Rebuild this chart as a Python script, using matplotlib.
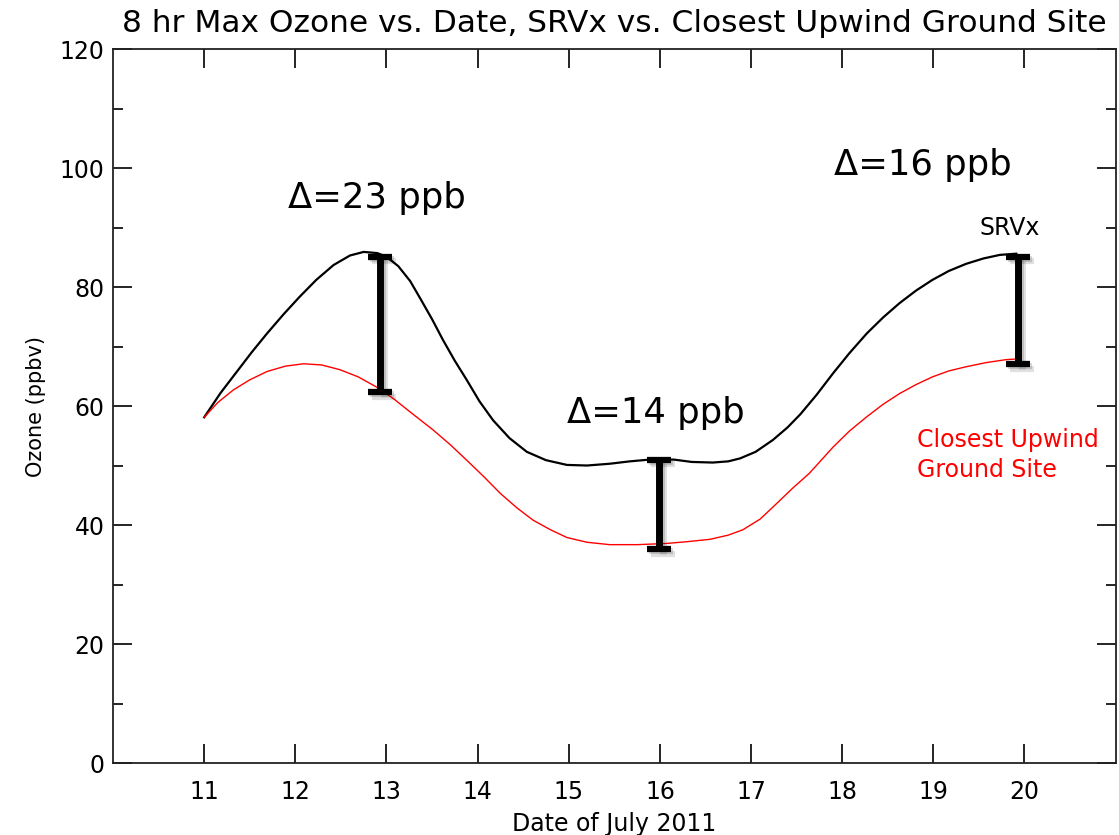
import matplotlib
matplotlib.use("Agg")
import matplotlib.pyplot as plt
import matplotlib.patheffects as pe
import numpy as np

# SRVx (black) curve
srvx_date = [11.00, 11.18, 11.36, 11.52, 11.69, 11.87, 12.05, 12.23, 12.42, 12.60,
             12.75, 12.90, 13.00, 13.13, 13.26, 13.37, 13.50, 13.62, 13.75, 13.88,
             14.02, 14.17, 14.35, 14.54, 14.75, 14.98, 15.20, 15.45, 15.67, 15.89,
             16.15, 16.35, 16.58, 16.75, 16.88, 17.05, 17.24, 17.40, 17.54, 17.72,
             17.90, 18.08, 18.27, 18.45, 18.63, 18.81, 18.99, 19.17, 19.36, 19.55,
             19.73, 19.91]
srvx_o3 = [58.1, 62.2, 65.8, 69.0, 72.2, 75.4, 78.4, 81.2, 83.7, 85.3,
           85.9, 85.7, 85.1, 83.5, 81.0, 78.1, 74.6, 71.1, 67.6, 64.4,
           60.8, 57.6, 54.6, 52.3, 50.9, 50.1, 50.0, 50.3, 50.7, 51.0,
           51.0, 50.6, 50.5, 50.7, 51.2, 52.3, 54.3, 56.4, 58.6, 61.9,
           65.5, 68.9, 72.2, 74.9, 77.3, 79.4, 81.2, 82.7, 83.9, 84.8,
           85.4, 85.6]

# closest upwind ground site (red) curve
ground_date = [11.00, 11.15, 11.32, 11.50, 11.69, 11.89, 12.09, 12.29, 12.49, 12.69,
               12.89, 13.08, 13.26, 13.51, 13.70, 13.88, 14.07, 14.25, 14.43, 14.61,
               14.80, 14.98, 15.20, 15.45, 15.75, 16.07, 16.30, 16.55, 16.75, 16.91,
               17.10, 17.28, 17.45, 17.64, 17.77, 17.90, 18.08, 18.27, 18.45, 18.63,
               18.81, 18.99, 19.17, 19.36, 19.58, 19.80, 19.91]
ground_o3 = [58.1, 60.6, 62.7, 64.4, 65.8, 66.7, 67.1, 66.9, 66.1, 64.9,
             63.2, 61.2, 59.0, 56.0, 53.5, 50.9, 48.1, 45.3, 42.9, 40.8,
             39.2, 37.9, 37.1, 36.7, 36.7, 36.9, 37.2, 37.6, 38.3, 39.2,
             41.0, 43.6, 46.1, 48.7, 50.9, 53.1, 55.8, 58.2, 60.3, 62.1,
             63.6, 64.9, 65.9, 66.6, 67.3, 67.8, 67.9]

# difference bars
bar_date = [12.93, 15.99, 19.93]
bar_lo = [62.3, 35.9, 67.0]
bar_hi = [85.1, 51.0, 85.0]
bar_text = ["\u0394=23 ppb", "\u0394=14 ppb", "\u0394=16 ppb"]
text_date = [12.89, 15.96, 18.88]
text_o3 = [95.0, 58.8, 100.5]

fig = plt.figure(figsize=(11.19, 8.35), dpi=100)
ax = fig.add_axes([0.101, 0.0862, 0.896, 0.8551])

ax.plot(srvx_date, srvx_o3, color="black", lw=1.6)
ax.plot(ground_date, ground_o3, color="red", lw=1.0)

mid = [(a + b) / 2 for a, b in zip(bar_lo, bar_hi)]
half = [(b - a) / 2 for a, b in zip(bar_lo, bar_hi)]
eb = ax.errorbar(bar_date, mid, yerr=half, fmt="none", ecolor="black",
                 elinewidth=5, capsize=8.5, capthick=4.5)
shadow = [pe.SimpleLineShadow(offset=(3, -3), shadow_color="black", alpha=0.12),
          pe.SimpleLineShadow(offset=(1.5, -1.5), shadow_color="black", alpha=0.15),
          pe.Normal()]
for c in eb.lines[1]:
    c.set_path_effects(shadow)
for c in eb.lines[2]:
    c.set_path_effects(shadow)

for t, x, y in zip(bar_text, text_date, text_o3):
    ax.text(x, y, t, fontsize=25.5, ha="center", va="center")

ax.text(19.84, 89.9, "SRVx", fontsize=17, ha="center", va="center")
ax.text(18.82, 51.8, "Closest Upwind\nGround Site", fontsize=17, color="red",
        ha="left", va="center", linespacing=1.3)

ax.set_xlim(10, 21)
ax.set_ylim(0, 120)
ax.set_xticks(range(11, 21))
ax.set_yticks(range(0, 121, 20))
ax.set_yticks(range(10, 120, 20), minor=True)
ax.tick_params(which="both", direction="in", top=True, right=True, width=1.2)
ax.tick_params(which="major", length=14)
ax.tick_params(which="minor", length=7)
ax.tick_params(axis="y", labelsize=17, pad=6)
ax.tick_params(axis="x", labelsize=17, pad=12)
for s in ax.spines.values():
    s.set_linewidth(1.3)
    s.set_color("#222222")

ax.set_xlabel("Date of July 2011", fontsize=17, labelpad=6)
ax.set_ylabel("Ozone (ppbv)", fontsize=15, labelpad=10)
fig.text(0.549, 0.972, "8 hr Max Ozone vs. Date, SRVx vs. Closest Upwind Ground Site",
         fontsize=22.5, ha="center", va="center")

fig.savefig("out.png", dpi=100)
